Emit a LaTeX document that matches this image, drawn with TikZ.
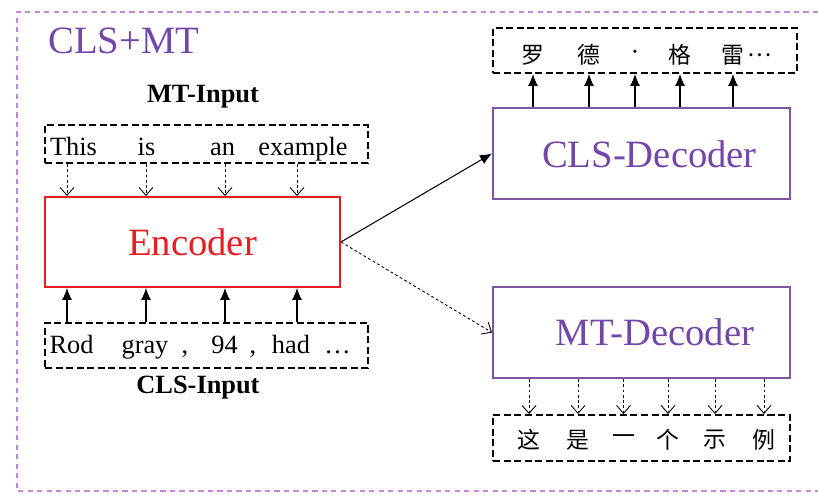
\documentclass[tikz,border=0pt]{standalone}
\usepackage{fontspec}
\setmainfont{Liberation Serif}
\newfontfamily\cjk{Noto Sans CJK SC}
\usetikzlibrary{arrows.meta,positioning}

\definecolor{frameviolet}{RGB}{195,135,215}
\definecolor{textviolet}{RGB}{115,70,170}
\definecolor{boxviolet}{RGB}{125,85,165}
\definecolor{encred}{RGB}{232,30,35}

\tikzset{
  frame/.style={draw=frameviolet, line width=1.1pt, dash pattern=on 3pt off 2.4pt},
  wordbox/.style={draw, line width=1.1pt, dash pattern=on 4pt off 2pt, inner sep=0pt},
  block/.style={draw, line width=1.1pt, inner sep=0pt, minimum width=5.94cm, minimum height=1.82cm},
  bigtext/.style={inner sep=0pt, font=\fontsize{22}{26}\selectfont},
  word/.style={anchor=base, inner sep=0pt, font=\fontsize{15}{18}\selectfont},
  hanzi/.style={inner sep=0pt, font=\cjk\fontsize{13}{15}\selectfont},
  tagtext/.style={inner sep=0pt, font=\bfseries\fontsize{15}{18}\selectfont},
  solidarrow/.style={-{Latex[length=2.4mm,width=2mm]}, line width=0.6pt},
  dasharrow/.style={-{Straight Barb[length=1.6mm,width=2.8mm]}, line width=0.5pt, dash pattern=on 1.6pt off 1.4pt},
}

\begin{document}
\begin{tikzpicture}
  \useasboundingbox (0,0) rectangle (16.36,-9.9);
  \draw[frame] (16.36,-0.24) -- (0.34,-0.24) -- (0.34,-9.82) -- (16.36,-9.82);
  \node (title) [bigtext, anchor=base west, text=textviolet] at (0.96,-1.06) {CLS+MT};

  % encoder side
  \node (mtin) [tagtext] at (4.06,-1.94) {MT-Input};
  \node (in1) [wordbox, minimum width=6.46cm, minimum height=0.76cm] at (4.13,-2.88) {};
  \node (w1) [word] at (1.47,-3.1) {This};
  \node (w2) [word] at (2.93,-3.1) {is};
  \node (w3) [word] at (4.45,-3.1) {an};
  \node (w4) [word] at (6.06,-3.1) {example};

  \node (enc) [block, draw=encred, minimum width=5.9cm, minimum height=1.8cm,
    bigtext, text=encred] at (3.85,-4.84) {Encoder};

  \node (in2) [wordbox, minimum width=6.46cm, minimum height=0.9cm] at (4.13,-6.91) {};
  \node (r1) [word] at (1.43,-7.06) {Rod};
  \node (r2) [word] at (2.9,-7.06) {gray};
  \node (r3) [word] at (3.7,-7.06) {,};
  \node (r4) [word] at (4.49,-7.06) {94};
  \node (r5) [word] at (5.06,-7.06) {,};
  \node (r6) [word] at (5.82,-7.06) {had};
  \node (r7) [word] at (6.75,-7.06) {…};
  \node (clsin) [tagtext] at (3.96,-7.76) {CLS-Input};

  \coordinate (a1) at (1.34,-4);
  \coordinate (a2) at (2.92,-4);
  \coordinate (a3) at (4.5,-4);
  \coordinate (a4) at (5.94,-4);

  % decoder side
  \node (cdec) [block, draw=boxviolet] at (12.83,-3.07) {};
  \node (cdect) [bigtext, anchor=base, text=textviolet] at (12.99,-3.34) {CLS-Decoder};
  \node (cout) [wordbox, minimum width=6.08cm, minimum height=0.9cm] at (12.9,-1.01) {};
  \node (c1) [hanzi] at (10.66,-1.1) {罗};
  \node (c2) [hanzi] at (11.78,-1.1) {德};
  \node (c3) [word, anchor=center] at (12.7,-1.1) {·};
  \node (c4) [hanzi] at (13.6,-1.1) {格};
  \node (c5) [hanzi] at (14.66,-1.1) {雷};
  \node (c6) [hanzi] at (15.2,-1.1) {…};

  \node (mdec) [block, draw=boxviolet] at (12.83,-6.65) {};
  \node (mdect) [bigtext, anchor=base, text=textviolet] at (13.1,-6.9) {MT-Decoder};
  \node (mout) [wordbox, minimum width=5.94cm, minimum height=0.92cm] at (12.83,-8.76) {};
  \node (m1) [hanzi] at (10.58,-8.8) {这};
  \node (m2) [hanzi] at (11.56,-8.8) {是};
  \node (m3) [hanzi] at (12.47,-8.8) {一};
  \node (m4) [hanzi] at (13.36,-8.8) {个};
  \node (m5) [hanzi] at (14.3,-8.8) {示};
  \node (m6) [hanzi] at (15.28,-8.8) {例};

  \path[dasharrow]
    (a1 |- in1.south) edge (a1 |- enc.north)
    (a2 |- in1.south) edge (a2 |- enc.north)
    (a3 |- in1.south) edge (a3 |- enc.north)
    (a4 |- in1.south) edge (a4 |- enc.north)
    (enc.east) edge (mdec.west)
    (m1 |- mdec.south) edge (m1 |- mout.north)
    (m2 |- mdec.south) edge (m2 |- mout.north)
    (m3 |- mdec.south) edge (m3 |- mout.north)
    (m4 |- mdec.south) edge (m4 |- mout.north)
    (m5 |- mdec.south) edge (m5 |- mout.north)
    (m6 |- mdec.south) edge (m6 |- mout.north);

  \path[solidarrow]
    (a1 |- in2.north) edge (a1 |- enc.south)
    (a2 |- in2.north) edge (a2 |- enc.south)
    (a3 |- in2.north) edge (a3 |- enc.south)
    (a4 |- in2.north) edge (a4 |- enc.south)
    (enc.east) edge (cdec.west)
    (c1 |- cdec.north) edge (c1 |- cout.south)
    (c2 |- cdec.north) edge (c2 |- cout.south)
    (c3 |- cdec.north) edge (c3 |- cout.south)
    (c4 |- cdec.north) edge (c4 |- cout.south)
    (c5 |- cdec.north) edge (c5 |- cout.south);
\end{tikzpicture}
\end{document}
